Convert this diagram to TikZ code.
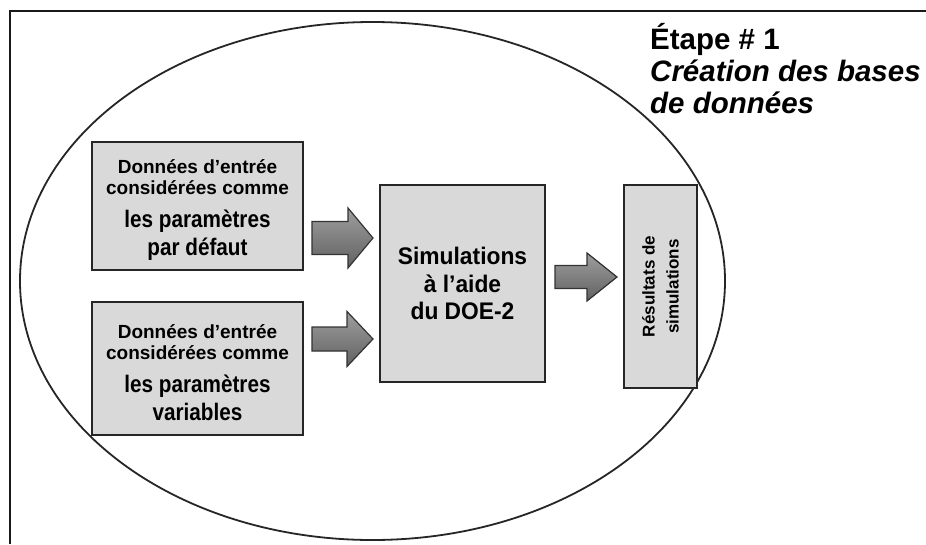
\documentclass[tikz,border=0pt]{standalone}
\usepackage{fontspec}
\setmainfont{Liberation Sans}
\usetikzlibrary{calc}
% block arrow: start x, head base x, tip x, centre y, half shaft, half head
\newcommand\drawblockarrow[6]{%
  \draw[blockarrow] (#1,#4-#5) -- (#2,#4-#5) -- (#2,#4-#6) -- (#3,#4)
    -- (#2,#4+#6) -- (#2,#4+#5) -- (#1,#4+#5) -- cycle;}
\newcommand\bigline[1]{\scalebox{0.9}[1.04]{\fontsize{23}{26}\selectfont\bfseries #1}}
\begin{document}
\begin{tikzpicture}[x=1pt,y=-1pt,
  inbox/.style={draw=black!85, line width=1.6pt, fill=black!15, inner sep=0pt},
  boxtext/.style={align=center, inner sep=0pt, font=\fontsize{19}{21}\selectfont\bfseries},
  blockarrow/.style={draw=black!80, line width=1.2pt, line join=miter,
    top color=black!38, bottom color=black!62},
]
\useasboundingbox (0,0) rectangle (926,544);
\fill[white] (0,0) rectangle (926,544);

% frame along the top and left edges
\draw[line width=2.6pt, black!90] (926,11) -- (10,11) -- (10,544);

% stage boundary
\draw[line width=1.8pt, black!85] (372.5,281) ellipse [x radius=352.5pt, y radius=259pt];

% stage title
\node[anchor=north west, inner sep=0pt, align=left,
      font=\fontsize{29.5}{32}\selectfont\bfseries] (title) at (650,23)
  {Étape \# 1\\\itshape Création des bases\\\itshape de données};

% input data boxes
\node[inbox, minimum width=211pt, minimum height=128pt] (fixed) at (197.5,206) {};
\node[boxtext, yshift=-4pt] (fixedtext) at (fixed.center)
  {Données d'entrée\\considérées comme\\[12pt]
   \bigline{les paramètres}\\[4pt]
   \bigline{par défaut}};
\node[inbox, minimum width=211pt, minimum height=133pt] (var) at (197.5,368.5) {};
\node[boxtext, yshift=-4pt] (vartext) at (var.center)
  {Données d'entrée\\considérées comme\\[12pt]
   \bigline{les paramètres}\\[4pt]
   \bigline{variables}};

% simulation box
\node[inbox, minimum width=165pt, minimum height=197pt, align=center,
      font=\fontsize{24}{27.5}\selectfont\bfseries] (sim) at (462.5,283.5)
  {\scalebox{0.95}[1]{Simulations}\\\scalebox{0.95}[1]{à l'aide}\\\scalebox{0.95}[1]{du DOE-2}};

% results box
\node[inbox, minimum width=73pt, minimum height=203pt] (res) at (660.5,286.5) {};
\node[rotate=90, align=center, inner sep=0pt,
      font=\fontsize{17}{24}\selectfont\bfseries] (restext) at (res.center)
  {Résultats de\\simulations};

% block arrows between the boxes
\drawblockarrow{312}{348}{373}{238}{16.5}{30}
\drawblockarrow{312}{347}{373}{339}{12}{27.5}
\drawblockarrow{555}{587}{617}{277}{11.5}{24}
\end{tikzpicture}
\end{document}
